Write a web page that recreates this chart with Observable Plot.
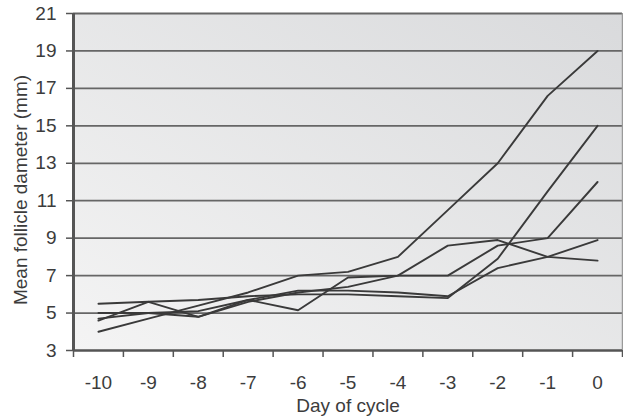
<!DOCTYPE html>
<html>
<head>
<meta charset="utf-8">
<script src="https://cdn.jsdelivr.net/npm/d3@7"></script>
<script src="https://cdn.jsdelivr.net/npm/@observablehq/plot@0.6"></script>
<style>
  html, body { margin: 0; padding: 0; background: #ffffff; }
</style>
</head>
<body>
<div id="chart"></div>
<script>
const days = [-10, -9, -8, -7, -6, -5, -4, -3, -2, -1, 0];
const follicleA = [4.0, 4.7, 5.4, 6.1, 7.0, 7.2, 8.0, 10.5, 13.0, 16.6, 19.0];
const follicleB = [5.5, 5.6, 5.7, 5.9, 6.0, 6.0, 5.9, 5.8, 7.9, 11.5, 15.0];
const follicleC = [5.0, 5.0, 4.8, 5.6, 6.1, 6.4, 7.0, 7.0, 8.6, 9.0, 12.0];
const follicleD = [4.7, 5.0, 5.1, 5.7, 6.2, 6.2, 6.1, 5.9, 7.4, 8.0, 8.9];
const follicleE = [4.6, 5.6, 4.8, 5.7, 5.15, 6.9, 7.0, 8.6, 8.9, 8.0, 7.8];
const yTicks = [3, 5, 7, 9, 11, 13, 15, 17, 19, 21];
const xBounds = [-10.5, -9.5, -8.5, -7.5, -6.5, -5.5, -4.5, -3.5, -2.5, -1.5, -0.5, 0.5];
const xTitle = "Day of cycle";
const yTitle = "Mean follicle dameter (mm)";

const seriesList = [
  ["A", follicleA], ["B", follicleB], ["C", follicleC], ["D", follicleD], ["E", follicleE]
];
const table = seriesList.flatMap(([name, vals]) =>
  vals.map((v, i) => ({series: name, day: days[i], value: v}))
);

const chart = Plot.plot({
  width: 623,
  height: 417,
  marginLeft: 73,
  marginRight: 1,
  marginTop: 13,
  marginBottom: 67,
  x: {domain: [-10.5, 0.5]},
  y: {domain: [3, 21]},
  style: {
    fontFamily: "'Liberation Sans', Arial, sans-serif",
    fontSize: "19px",
    color: "#3c3c3c",
    background: "#ffffff"
  },
  marks: [
    Plot.frame({fill: "url(#bgGrad)", stroke: null}),
    Plot.ruleY(yTicks.slice(1, -1), {stroke: "#666666", strokeWidth: 1.8}),
    Plot.line(table, {x: "day", y: "value", z: "series", stroke: "#3a3a3a", strokeWidth: 1.9}),
    Plot.ruleY([21], {stroke: "#666666", strokeWidth: 2}),
    Plot.ruleX([0.5], {stroke: "#9a9a9a", strokeWidth: 1.5}),
    Plot.ruleX([-10.5], {stroke: "#555555", strokeWidth: 3}),
    Plot.ruleY([3], {stroke: "#555555", strokeWidth: 2.5}),
    Plot.axisY(yTicks, {tickSize: 7, tickPadding: 10, label: null, tickFormat: d => String(d), stroke: "#555555", strokeWidth: 1.5, fill: "#3c3c3c"}),
    Plot.axisX(xBounds, {tickSize: 7, tickFormat: () => "", label: null, stroke: "#555555", strokeWidth: 1.5}),
    Plot.axisX(days, {tickSize: 0, tickPadding: 25, label: null, tickFormat: d => String(d), fill: "#3c3c3c"}),
    Plot.text([xTitle], {text: d => d, frameAnchor: "bottom", dy: 61, fontSize: 19, fill: "#3c3c3c"}),
    Plot.text([yTitle], {text: d => d, frameAnchor: "left", textAnchor: "middle", dx: -53, dy: 8, rotate: -90, fontSize: 19, fill: "#3c3c3c"})
  ]
});

const ns = "http://www.w3.org/2000/svg";
const defs = document.createElementNS(ns, "defs");
const grad = document.createElementNS(ns, "linearGradient");
grad.setAttribute("id", "bgGrad");
grad.setAttribute("x1", "0"); grad.setAttribute("y1", "1");
grad.setAttribute("x2", "1"); grad.setAttribute("y2", "0");
[["0", "#f4f4f4"], ["1", "#d9dadc"]].forEach(([o, c]) => {
  const s = document.createElementNS(ns, "stop");
  s.setAttribute("offset", o);
  s.setAttribute("stop-color", c);
  grad.appendChild(s);
});
defs.appendChild(grad);
chart.insertBefore(defs, chart.firstChild);
document.getElementById("chart").appendChild(chart);
</script>
</body>
</html>
